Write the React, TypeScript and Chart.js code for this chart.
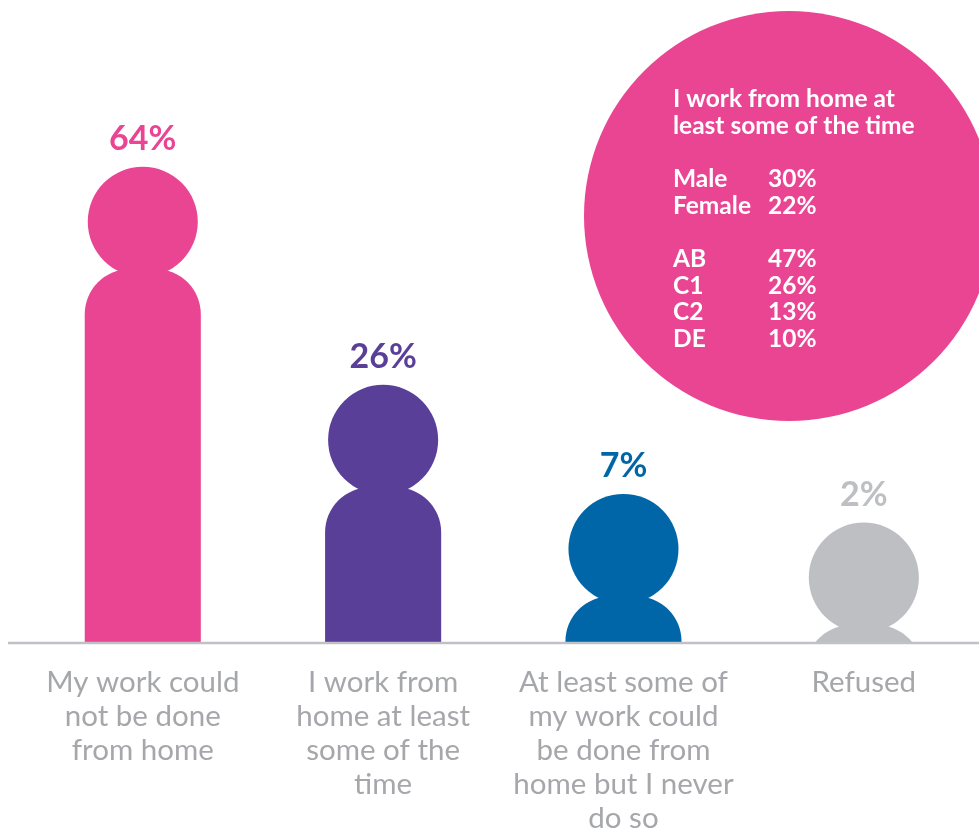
import React, { useEffect, useRef } from "react";
import { Chart, registerables } from "chart.js";

Chart.register(...registerables);

// ---- data ----
const categories: string[][] = [
  ["My work could", "not be done", "from home"],
  ["I work from", "home at least", "some of the", "time"],
  ["At least some of", "my work could", "be done from", "home but I never", "do so"],
  ["Refused"],
];
const values: number[] = [64, 26, 7, 2];
const barColors: string[] = ["#e94593", "#5a3f99", "#0066a7", "#bebfc3"];

const insetTitle: string[] = ["I work from home at", "least some of the time"];
const genderLabels: string[] = ["Male", "Female"];
const genderValues: number[] = [30, 22];
const gradeLabels: string[] = ["AB", "C1", "C2", "DE"];
const gradeValues: number[] = [47, 26, 13, 10];

const FONT = "Lato, 'Open Sans', sans-serif";
const LABEL_GREY = "#a6a7ab";
const AXIS_GREY = "#c0c1c5";
const INSET_PINK = "#e94593";

const personPlugin = {
  id: "personShapes",
  afterDatasetsDraw(chart: any) {
    const { ctx, chartArea } = chart;
    const meta = chart.getDatasetMeta(0);
    const bottom = chartArea.bottom;
    ctx.save();
    ctx.beginPath();
    ctx.rect(0, 0, chart.width, bottom);
    ctx.clip();
    meta.data.forEach((bar: any, i: number) => {
      const x = bar.x;
      const top = bar.y;
      const w = bar.width;
      const half = w / 2;
      const r = w * 0.474;
      const headCy = top + r;
      const bodyTop = headCy + r * 0.86;
      const cr = r * 0.82;
      ctx.fillStyle = barColors[i];
      // body
      ctx.beginPath();
      ctx.moveTo(x - half, bottom + cr + 20);
      ctx.lineTo(x - half, bodyTop + cr);
      ctx.arc(x - half + cr, bodyTop + cr, cr, Math.PI, 1.5 * Math.PI);
      ctx.lineTo(x + half - cr, bodyTop);
      ctx.arc(x + half - cr, bodyTop + cr, cr, 1.5 * Math.PI, 2 * Math.PI);
      ctx.lineTo(x + half, bottom + cr + 20);
      ctx.closePath();
      ctx.fill();
      // head
      ctx.beginPath();
      ctx.arc(x, headCy, r, 0, Math.PI * 2);
      ctx.fill();
    });
    ctx.restore();

    // value labels
    ctx.save();
    ctx.font = `bold 34px ${FONT}`;
    ctx.textAlign = "center";
    ctx.textBaseline = "alphabetic";
    meta.data.forEach((bar: any, i: number) => {
      ctx.fillStyle = barColors[i];
      ctx.fillText(values[i] + "%", bar.x, bar.y - 17);
    });
    ctx.restore();

    // baseline
    ctx.save();
    ctx.strokeStyle = AXIS_GREY;
    ctx.lineWidth = 2.5;
    ctx.beginPath();
    ctx.moveTo(8, bottom + 1);
    ctx.lineTo(chart.width, bottom + 1);
    ctx.stroke();
    ctx.restore();
  },
};

const insetPlugin = {
  id: "insetCircle",
  afterDraw(chart: any) {
    const { ctx } = chart;
    ctx.save();
    ctx.fillStyle = INSET_PINK;
    ctx.beginPath();
    ctx.arc(789, 216, 205, 0, Math.PI * 2);
    ctx.fill();
    ctx.fillStyle = "#ffffff";
    ctx.font = `bold 24.5px ${FONT}`;
    ctx.textAlign = "left";
    ctx.textBaseline = "alphabetic";
    const lx = 673;
    const vx = 768;
    const step = 26.7;
    insetTitle.forEach((t, i) => ctx.fillText(t, lx, 107 + i * step));
    genderLabels.forEach((t, i) => {
      ctx.fillText(t, lx, 187 + i * step);
      ctx.fillText(genderValues[i] + "%", vx, 187 + i * step);
    });
    gradeLabels.forEach((t, i) => {
      ctx.fillText(t, lx, 267 + i * step);
      ctx.fillText(gradeValues[i] + "%", vx, 267 + i * step);
    });
    ctx.restore();
  },
};

export default function App() {
  const canvasRef = useRef<HTMLCanvasElement | null>(null);

  useEffect(() => {
    if (!canvasRef.current) return;
    const chart = new Chart(canvasRef.current, {
      type: "bar",
      data: {
        labels: categories,
        datasets: [
          {
            data: values,
            backgroundColor: "rgba(0,0,0,0)",
            borderWidth: 0,
            categoryPercentage: 1,
            barPercentage: 0.483,
          },
        ],
      },
      options: {
        animation: false,
        responsive: true,
        maintainAspectRatio: false,
        layout: { padding: { left: 22.6, right: 0, top: 0, bottom: 0 } },
        plugins: {
          legend: { display: false },
          tooltip: { enabled: false },
        },
        scales: {
          x: {
            type: "category",
            grid: { display: false, drawTicks: false },
            border: { display: false },
            ticks: {
              color: LABEL_GREY,
              font: { family: FONT, size: 29.5, lineHeight: "34px" },
              padding: 23,
              maxRotation: 0,
              minRotation: 0,
              autoSkip: false,
            },
          },
          y: {
            display: false,
            min: -18.8,
            max: 93.05,
          },
        },
      },
      plugins: [personPlugin, insetPlugin],
    });
    return () => chart.destroy();
  }, []);

  return (
    <div
      style={{
        position: "fixed",
        left: 0,
        top: 0,
        width: 979,
        height: 832,
        overflow: "hidden",
        background: "#ffffff",
      }}
    >
      <div style={{ position: "relative", width: 984, height: 858 }}>
        <canvas ref={canvasRef} />
      </div>
    </div>
  );
}
